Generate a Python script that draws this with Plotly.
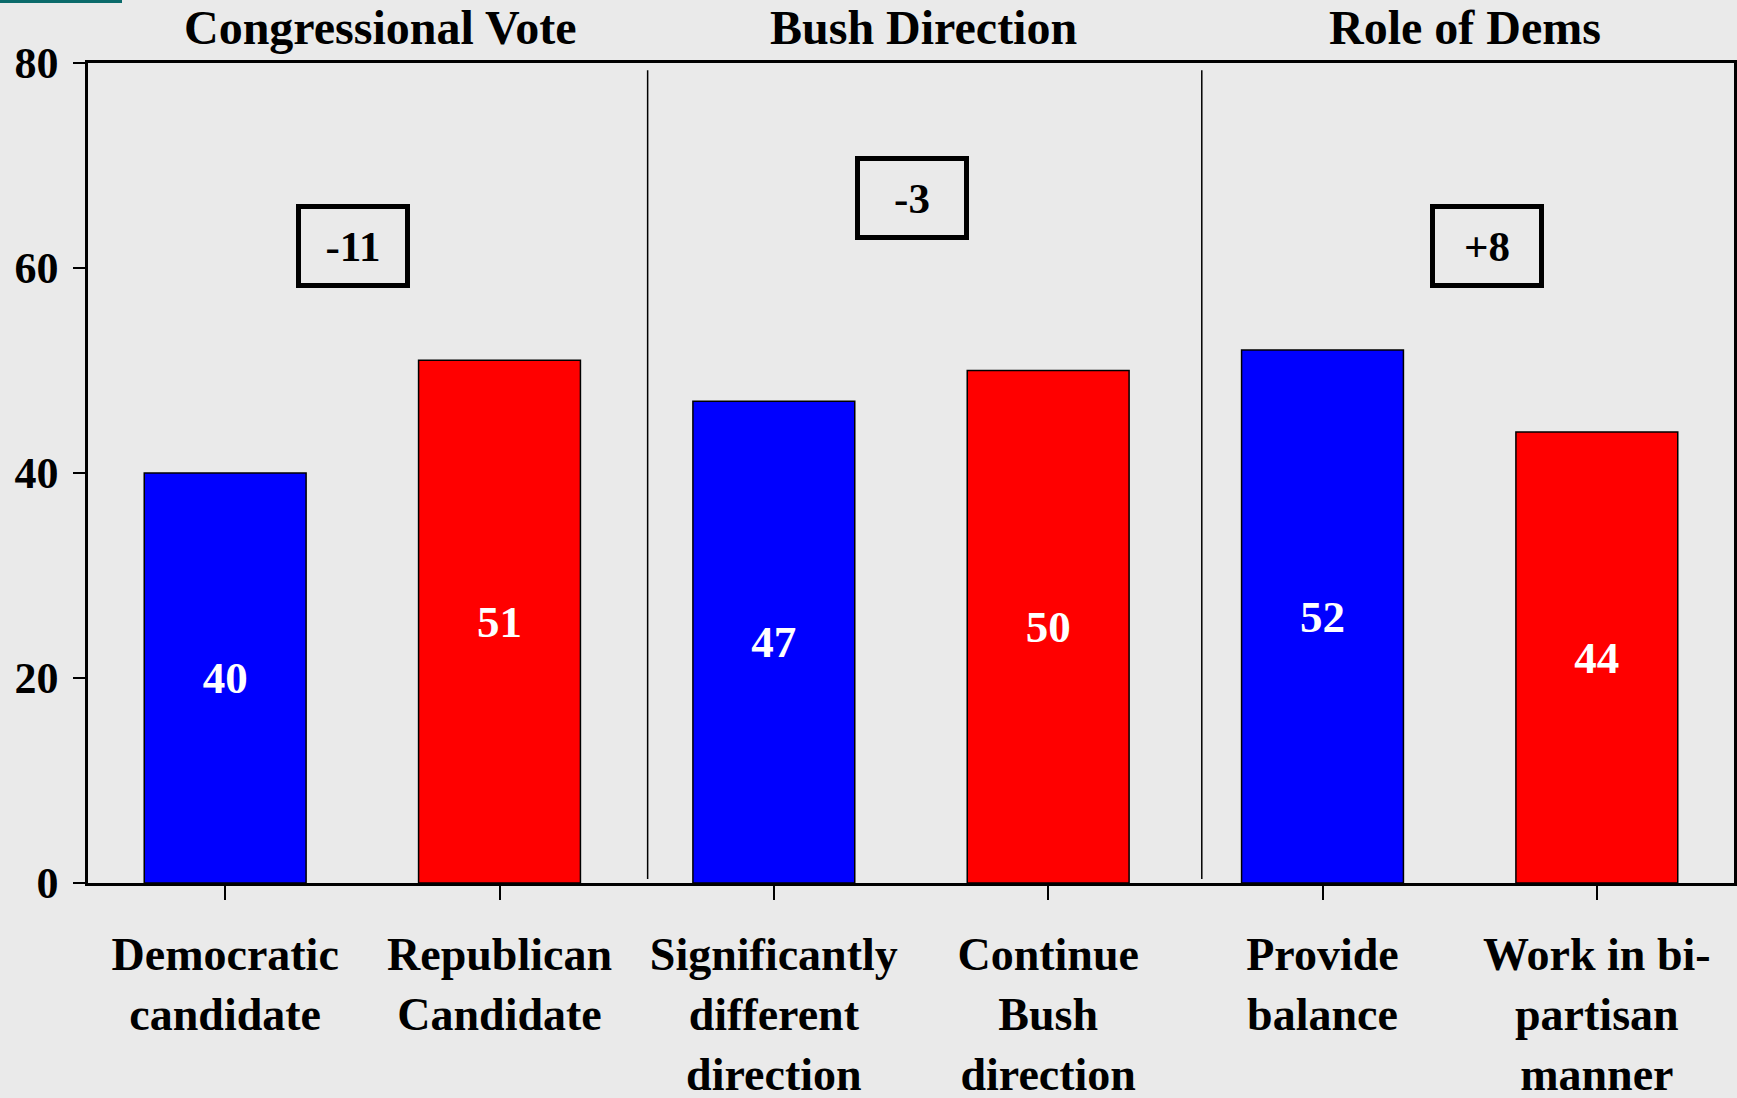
import plotly.graph_objects as go

# ---- data ----
categories = [
    "Democratic<br>candidate",
    "Republican<br>Candidate",
    "Significantly<br>different<br>direction",
    "Continue<br>Bush<br>direction",
    "Provide<br>balance",
    "Work in bi-<br>partisan<br>manner",
]
values = [40, 51, 47, 50, 52, 44]
bar_colors = ["#0000FF", "#FF0000", "#0000FF", "#FF0000", "#0000FF", "#FF0000"]
group_titles = ["Congressional Vote", "Bush Direction", "Role of Dems"]
gap_labels = ["-11", "-3", "+8"]
y_ticks = [0, 20, 40, 60, 80]

FONT = "Liberation Serif, Times New Roman, serif"
BG = "#EAEAEA"

xidx = list(range(len(categories)))

fig = go.Figure()
fig.add_trace(go.Bar(
    x=xidx,
    y=values,
    marker=dict(color=bar_colors, line=dict(color="black", width=1.5)),
    text=[str(v) for v in values],
    textposition="inside",
    insidetextanchor="middle",
    textangle=0,
    textfont=dict(family=FONT, size=45, color="white", weight="bold"),
    hoverinfo="skip",
))

# group titles (positions)
title_x = [0.565, 2.546, 4.52]
for t, xx in zip(group_titles, title_x):
    fig.add_annotation(x=xx, xref="x", y=1.044, yref="paper", text=t,
                       showarrow=False, xanchor="center", yanchor="middle",
                       height=54,
                       font=dict(family=FONT, size=48, color="black", weight="bold"))

# boxed gap labels (positions)
box_x = [0.466, 2.504, 4.60]
box_y = [62.1, 66.8, 62.1]
for t, xx, yy in zip(gap_labels, box_x, box_y):
    fig.add_annotation(x=xx, y=yy, xref="x", yref="y", text=t, showarrow=False,
                       xanchor="center", yanchor="middle",
                       width=100, height=70, borderwidth=5, borderpad=2,
                       bordercolor="black",
                       font=dict(family=FONT, size=43, color="black", weight="bold"))

# group separators
for sx in [1.54, 3.56]:
    fig.add_shape(type="line", x0=sx, x1=sx, y0=0.4, y1=79.3, xref="x", yref="y",
                  line=dict(color="black", width=1.5))

# teal strip top-left
fig.add_shape(type="rect", xref="paper", yref="paper",
              x0=-88 / 1646, x1=(122 - 88) / 1646,
              y0=1 + (63 - 3) / 820, y1=1 + 63 / 820,
              line=dict(width=0), fillcolor="#0B6B6B")

fig.update_layout(
    width=1737, height=1098,
    margin=dict(l=88, r=3, t=63, b=215),
    paper_bgcolor=BG, plot_bgcolor=BG,
    showlegend=False,
    bargap=0.41,
    font=dict(family=FONT, color="black"),
)
fig.update_xaxes(
    tickmode="array", tickvals=xidx, ticktext=categories,
    range=[-0.5, 5.5], tickson="boundaries",
    ticks="outside", ticklen=14, tickwidth=2, tickcolor="black",
    showline=True, linecolor="black", linewidth=3, mirror=True,
    showgrid=False, zeroline=False, automargin=False,
    tickfont=dict(family=FONT, size=46, color="black", weight="bold"),
    ticklabelstandoff=15,
)
fig.update_yaxes(
    range=[0, 80], tickvals=y_ticks,
    ticks="outside", ticklen=12, tickwidth=2, tickcolor="black",
    showline=True, linecolor="black", linewidth=2.5, mirror=True,
    showgrid=False, zeroline=False, automargin=False,
    tickfont=dict(family=FONT, size=44, color="black", weight="bold"),
    ticklabelstandoff=6,
)

fig.write_html(
    "out.html",
    config={"displayModeBar": False},
    post_script="document.body.style.margin='0';document.body.style.overflow='hidden';"
                "document.body.style.background='#EAEAEA';",
)
